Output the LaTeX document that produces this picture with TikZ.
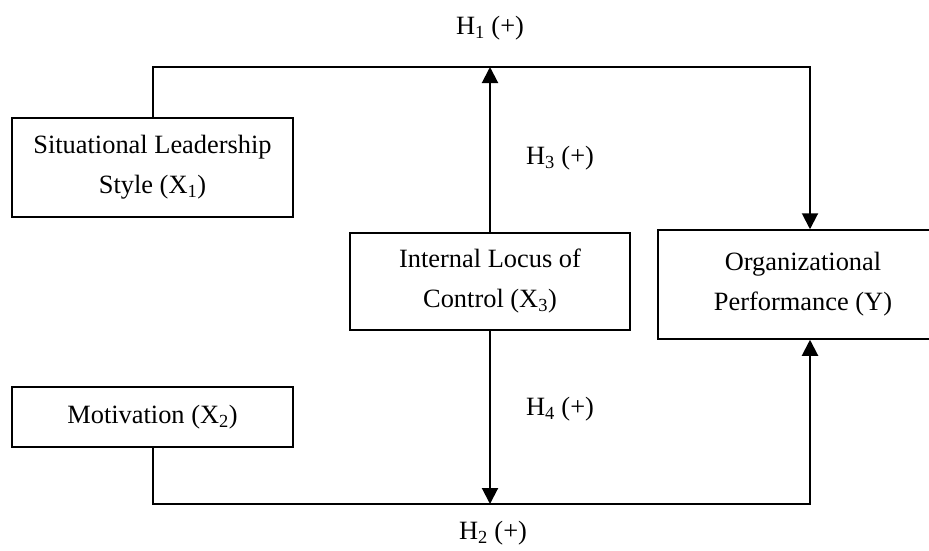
\documentclass[tikz,border=0pt]{standalone}
\usepackage{fontspec}
\setmainfont{Liberation Serif}
\usetikzlibrary{arrows.meta}
\begin{document}
\begin{tikzpicture}[x=1pt,y=-1pt,
    box/.style={draw, line width=1.5pt, align=center, inner sep=0pt,
        font=\fontsize{26.4}{40}\selectfont},
    link/.style={line width=2pt, -{Triangle[length=16pt,width=16pt]}},
    hlabel/.style={font=\fontsize{26.4}{32}\selectfont}]
        \useasboundingbox (0,0) rectangle (929,550);
        % Define the variable boxes
        \node[box, minimum width=281pt, minimum height=99pt] (sls) at (152.5,167.5)
            {Situational Leadership\\Style (X\textsubscript{1})};
        \node[box, minimum width=281pt, minimum height=60pt] (mot) at (152.5,417)
            {Motivation (X\textsubscript{2})};
        \node[box, minimum width=280pt, minimum height=97pt] (iloc) at (490,281.5)
            {Internal Locus of\\Control (X\textsubscript{3})};
        \node[box, minimum width=290pt, minimum height=109pt] (perf) at (803,284.5)
            {Organizational\\Performance (Y)};
        % Corners of the connectors
        \coordinate (top) at (810,67);
        \coordinate (bot) at (810,504);
        % Add connectors
        \draw[link] (sls.north) |- (top) -- (top |- perf.north);
        \draw[link] (mot.south) |- (bot) -- (bot |- perf.south);
        \draw[link] (iloc.north) -- (iloc.north |- top);
        \draw[link] (iloc.south) -- (iloc.south |- bot);
        % Add hypothesis labels
        \node[hlabel] (h1) at (490,28) {H\textsubscript{1} (+)};
        \node[hlabel] (h2) at (493,533) {H\textsubscript{2} (+)};
        \node[hlabel] (h3) at (560,158) {H\textsubscript{3} (+)};
        \node[hlabel] (h4) at (560,409) {H\textsubscript{4} (+)};
\end{tikzpicture}
\end{document}
